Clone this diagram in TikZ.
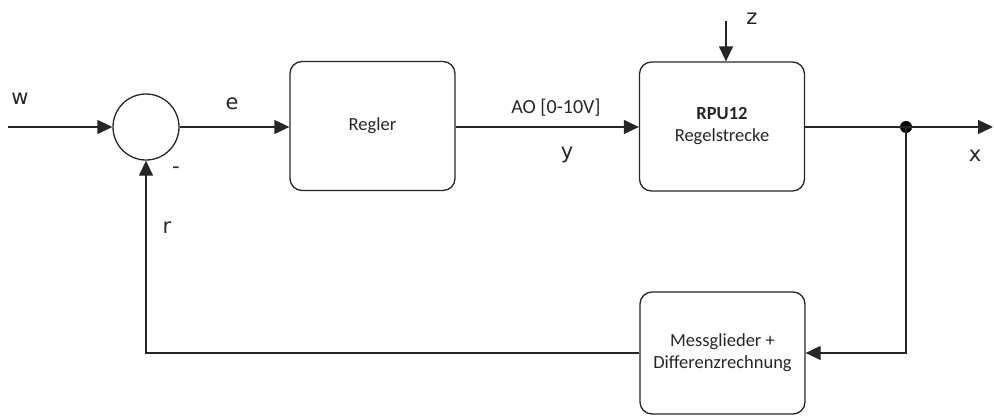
\documentclass[tikz,border=0pt]{standalone}
\usepackage{fontspec}
\setmainfont{Carlito}
\newfontfamily\lblfont{DejaVu Sans}
\usetikzlibrary{arrows.meta}
\begin{document}
\begin{tikzpicture}[x=1pt,y=-1pt,
  line width=1.3pt,
  conn/.style={draw=black!85,-{Triangle[length=15pt,width=14pt]}},
  blockbox/.style={draw=black!85,rounded corners=12pt,minimum width=165pt,minimum height=129pt,inner sep=0pt,align=center,font=\fontsize{18.5}{22}\selectfont,text=black!85},
  sumnode/.style={draw=black!85,circle,minimum size=66pt,inner sep=0pt},
  lbl/.style={font=\lblfont\fontsize{21}{24}\selectfont,text=black!85,inner sep=0pt},
  blbl/.style={font=\fontsize{20}{24}\selectfont,text=black!85,inner sep=0pt},
  dotnode/.style={circle,fill=black,minimum size=12pt,inner sep=0pt}]
\useasboundingbox (0,0) rectangle (994,418);
\node[sumnode] (sum) at (146,127) {};
\node[blockbox] (regler) at (372.5,126) {Regler};
\node[blockbox] (strecke) at (722,126.5) {\textbf{RPU12}\\Regelstrecke};
\node[blockbox,minimum height=122pt] (mess) at (722.5,353) {Messglieder +\\Differenzrechnung};
\node[dotnode] (branch) at (906,127) {};
\coordinate (win) at (8,127);
\coordinate (zin) at (726,21);
\coordinate (xout) at (993,127);
\draw[conn] (win) -- (sum.west);
\draw[conn] (sum.east) -- (sum.east -| regler.west);
\draw[conn] (regler.east |- sum.east) -- (sum.east -| strecke.west);
\draw[conn] (zin) -- (zin |- strecke.north);
\draw[conn] (strecke.east |- branch) -- (xout);
\draw[conn] (branch.center) |- (mess.east);
\draw[conn] (mess.west) -| (sum.south);
\node[lbl] (wl) at (20,99) {w};
\node[lbl] (el) at (232,104) {e};
\node[lbl] (minus) at (176,170) {-};
\node[lbl] (rl) at (167,228) {r};
\node[blbl] (aol) at (556,108) {AO [0-10V]};
\node[lbl] (yl) at (567,155) {y};
\node[lbl] (zl) at (752,19) {z};
\node[lbl] (xl) at (975,156) {x};
\end{tikzpicture}
\end{document}
